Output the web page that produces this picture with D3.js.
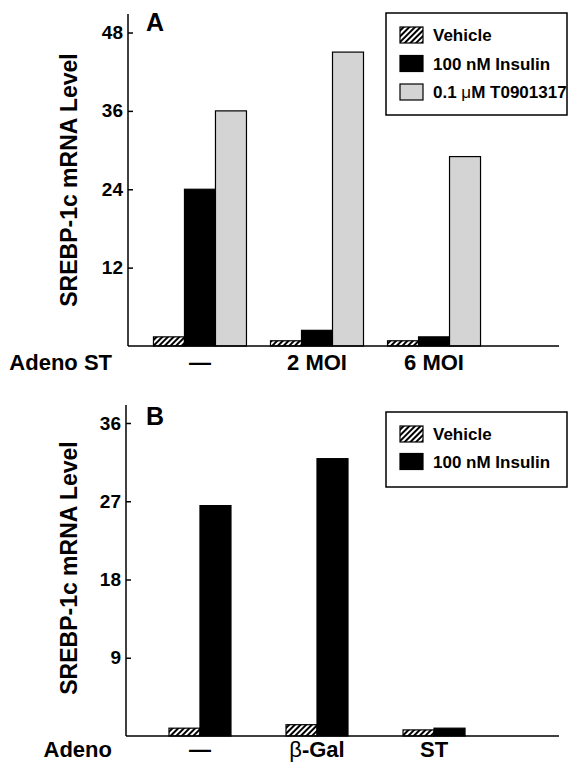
<!DOCTYPE html>
<html>
<head>
<meta charset="utf-8">
<script src="https://cdnjs.cloudflare.com/ajax/libs/d3/7.8.5/d3.min.js"></script>
<style>
  body { margin: 0; background: #fff; overflow: hidden; }
  text { font-family: "Liberation Sans", Arial, sans-serif; font-weight: bold; fill: #000; }
</style>
</head>
<body>
<div id="wrapper"></div>
<script>
// panel A
const groupsA = ["—", "2 MOI", "6 MOI"]
const seriesA = ["Vehicle", "100 nM Insulin", "0.1 μM T0901317"]
const vehicleA = [1.4, 0.8, 0.8]
const insulinA = [24, 2.4, 1.4]
const t0901317A = [36, 45, 29]
const ticksA = [12, 24, 36, 48]

// panel B
const groupsB = ["—", "β-Gal", "ST"]
const seriesB = ["Vehicle", "100 nM Insulin"]
const vehicleB = [0.9, 1.3, 0.7]
const insulinB = [26.5, 31.9, 0.9]
const ticksB = [9, 18, 27, 36]

const fills = {
  "Vehicle": "url(#hatch)",
  "100 nM Insulin": "#000",
  "0.1 μM T0901317": "#d4d4d4",
}

function drawChart() {
  const dms = { width: 570, height: 763 }

  const wrapper = d3.select("#wrapper")
    .append("svg")
    .attr("width", dms.width)
    .attr("height", dms.height)
    .style("display", "block")

  const defs = wrapper.append("defs")
  const hatch = defs.append("pattern")
    .attr("id", "hatch")
    .attr("patternUnits", "userSpaceOnUse")
    .attr("width", 4)
    .attr("height", 4)
    .attr("patternTransform", "rotate(45)")
  hatch.append("rect")
    .attr("width", 4).attr("height", 4).attr("fill", "#fff")
  hatch.append("line")
    .attr("x1", 1).attr("y1", 0).attr("x2", 1).attr("y2", 4)
    .attr("stroke", "#000").attr("stroke-width", 2)

  // label with greek letter in a lighter weight
  const richText = (sel, str) => {
    const parts = str.split(/([μβ])/)
    parts.filter(p => p !== "").forEach(p => {
      sel.append("tspan")
        .style("font-weight", /[μβ]/.test(p) ? "normal" : "bold")
        .text(p)
    })
  }

  function drawPanel(p) {
    const g = wrapper.append("g")

    const xScale = d3.scaleBand()
      .domain(d3.range(p.groups.length))
      .range([128, 506])
      .paddingInner(0)
      .paddingOuter(0.115)

    const barW = 31
    const x1 = d3.scaleBand()
      .domain(p.series)
      .range([-barW * p.series.length / 2, barW * p.series.length / 2])

    const yScale = d3.scaleLinear()
      .domain([0, d3.max(p.ticks)])
      .range([p.baseline, p.tickTop])

    // bars
    const rows = []
    p.groups.forEach((grp, i) => {
      p.series.forEach((s, j) => {
        rows.push({ i, s, v: p.values[j][i] })
      })
    })

    g.selectAll("rect.bar")
      .data(rows)
      .join("rect")
      .attr("class", "bar")
      .attr("x", d => xScale(d.i) + xScale.bandwidth() / 2 + x1(d.s))
      .attr("width", x1.bandwidth())
      .attr("y", d => yScale(d.v))
      .attr("height", d => yScale(0) - yScale(d.v))
      .attr("fill", d => fills[d.s])
      .attr("stroke", "#000")
      .attr("stroke-width", 1.2)

    // y axis
    const yAxisGenerator = d3.axisLeft()
      .scale(yScale)
      .tickValues(p.ticks)
      .tickSizeInner(-5)
      .tickSizeOuter(0)
      .tickPadding(5)

    const yAxis = g.append("g")
      .attr("transform", `translate(${p.axisX},0)`)
      .call(yAxisGenerator)
    yAxis.select(".domain").remove()
    yAxis.selectAll(".tick line").attr("stroke-width", 1.5)
    yAxis.selectAll(".tick text")
      .style("font-size", "19px")
      .style("font-family", "'Liberation Sans', Arial, sans-serif")
      .style("font-weight", "bold")

    g.append("line")
      .attr("x1", p.axisX).attr("x2", p.axisX)
      .attr("y1", p.baseline).attr("y2", p.axisTop)
      .attr("stroke", "#000").attr("stroke-width", 1.5)

    g.append("line")
      .attr("x1", p.axisX).attr("x2", 559)
      .attr("y1", p.baseline).attr("y2", p.baseline)
      .attr("stroke", "#000").attr("stroke-width", 1.5)

    // category labels
    g.selectAll("text.cat")
      .data(p.groups)
      .join("text")
      .attr("class", "cat")
      .attr("x", (d, i) => xScale(i) + xScale.bandwidth() / 2)
      .attr("y", p.baseline + p.labelGap)
      .attr("text-anchor", "middle")
      .style("font-size", "22px")
      .each(function(d) { richText(d3.select(this), d) })

    g.append("text")
      .attr("x", 112)
      .attr("y", p.baseline + p.labelGap)
      .attr("text-anchor", "end")
      .style("font-size", "22px")
      .text(p.xLabel)

    // y title
    g.append("text")
      .attr("transform", `translate(77,${p.titleY}) rotate(-90)`)
      .attr("text-anchor", "middle")
      .style("font-size", "23px")
      .text("SREBP-1c mRNA Level")

    // panel letter
    g.append("text")
      .attr("x", 146)
      .attr("y", p.letterY)
      .style("font-size", "25px")
      .text(p.letter)

    // legend
    const lg = g.append("g")
    lg.append("rect")
      .attr("x", 386).attr("y", p.legendTop)
      .attr("width", 181).attr("height", p.legendH)
      .attr("fill", "#fff")
      .attr("stroke", "#000").attr("stroke-width", 1.5)

    const items = lg.selectAll("g.item")
      .data(p.series)
      .join("g")
      .attr("class", "item")
      .attr("transform", (d, i) => `translate(400,${p.legendTop + 22 + i * p.legendStep})`)

    items.append("rect")
      .attr("x", 0).attr("y", -8)
      .attr("width", 23).attr("height", 16)
      .attr("fill", d => fills[d])
      .attr("stroke", "#000").attr("stroke-width", 1.2)

    items.append("text")
      .attr("x", 33)
      .attr("y", 6)
      .style("font-size", "17px")
      .each(function(d) { richText(d3.select(this), d) })
  }

  drawPanel({
    groups: groupsA, series: seriesA, values: [vehicleA, insulinA, t0901317A],
    ticks: ticksA, baseline: 346, tickTop: 32.5, axisTop: 14, axisX: 128,
    xLabel: "Adeno ST", labelGap: 24, titleY: 180, letter: "A", letterY: 31,
    legendTop: 13, legendH: 102, legendStep: 28.5,
  })

  drawPanel({
    groups: groupsB, series: seriesB, values: [vehicleB, insulinB],
    ticks: ticksB, baseline: 736, tickTop: 423, axisTop: 405, axisX: 126,
    xLabel: "Adeno", labelGap: 21, titleY: 568, letter: "B", letterY: 425,
    legendTop: 412, legendH: 75, legendStep: 27.5,
  })
}

drawChart()
</script>
</body>
</html>
